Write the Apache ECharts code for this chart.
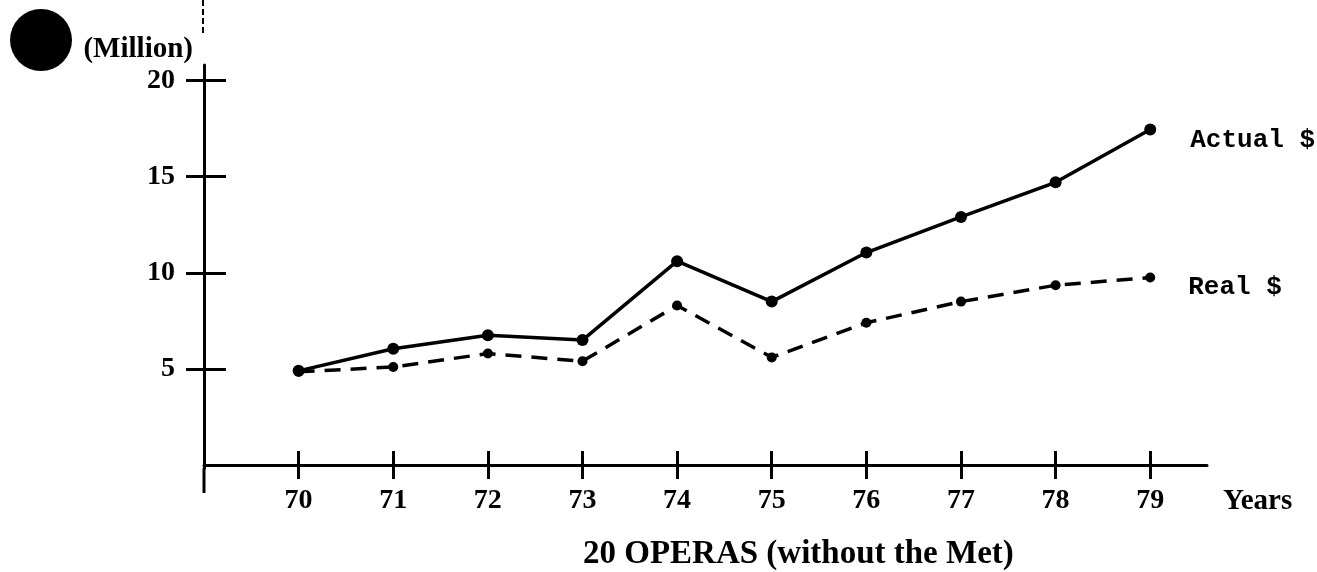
<!DOCTYPE html>
<html>
<head>
<meta charset="utf-8">
<script src="https://cdn.jsdelivr.net/npm/echarts@6/dist/echarts.min.js"></script>
<style>
  html, body { margin: 0; padding: 0; background: #fff; }
  #chart { width: 1317px; height: 572px; }
</style>
</head>
<body>
<div id="chart"></div>
<script>
// years on the x axis (19xx)
const years = [70, 71, 72, 73, 74, 75, 76, 77, 78, 79];
// million dollars
const actualValues = [4.9, 6.05, 6.75, 6.5, 10.6, 8.5, 11.05, 12.9, 14.7, 17.45];
const realValues = [4.85, 5.1, 5.8, 5.4, 8.3, 5.6, 7.4, 8.5, 9.35, 9.75];
const yTicks = [5, 10, 15, 20];

const serif = 'Liberation Serif';
const mono = 'Liberation Mono';

const pairs = (vals) => years.map((y, i) => [y, vals[i]]);

const chart = echarts.init(document.getElementById('chart'));
chart.setOption({
  backgroundColor: '#fff',
  animation: false,
  title: {
    text: '20 OPERAS (without the Met)',
    left: 578,
    top: 533,
    textStyle: { fontFamily: serif, fontWeight: 'bold', fontSize: 33, color: '#000' }
  },
  grid: { left: 204, right: 110, top: 65, bottom: 104 },
  xAxis: [{
    type: 'value',
    min: 69,
    max: 79.6,
    name: 'Years',
    nameLocation: 'end',
    nameGap: 16,
    nameTextStyle: {
      fontFamily: serif, fontWeight: 'bold', fontSize: 29, color: '#000',
      verticalAlign: 'top', padding: [22, 0, 0, 0]
    },
    splitLine: { show: false },
    axisLine: { lineStyle: { color: '#000', width: 3 } },
    axisTick: { customValues: years, length: 14, lineStyle: { color: '#000', width: 3 } },
    axisLabel: {
      customValues: years, margin: 19,
      fontFamily: serif, fontWeight: 'bold', fontSize: 28, color: '#000'
    }
  }, {
    // ticks crossing up through the axis
    type: 'value',
    min: 69,
    max: 79.6,
    position: 'bottom',
    splitLine: { show: false },
    axisLine: { show: false },
    axisTick: { inside: true, customValues: years, length: 14, lineStyle: { color: '#000', width: 3 } },
    axisLabel: { show: false }
  }],
  yAxis: [{
    type: 'value',
    min: -0.15,
    max: 20.8,
    name: '(Million)',
    nameLocation: 'end',
    nameGap: 15,
    nameTextStyle: {
      fontFamily: serif, fontWeight: 'bold', fontSize: 29, color: '#000',
      align: 'right', verticalAlign: 'middle', padding: [0, 11, 0, 0]
    },
    splitLine: { show: false },
    axisLine: { lineStyle: { color: '#000', width: 3 } },
    axisTick: { customValues: yTicks, length: 18, lineStyle: { color: '#000', width: 3 } },
    axisLabel: {
      customValues: yTicks, margin: 29,
      fontFamily: serif, fontWeight: 'bold', fontSize: 28, color: '#000'
    }
  }, {
    type: 'value',
    min: -0.15,
    max: 20.8,
    position: 'left',
    splitLine: { show: false },
    axisLine: { show: false },
    axisTick: { inside: true, customValues: yTicks, length: 22, lineStyle: { color: '#000', width: 3 } },
    axisLabel: { show: false }
  }],
  series: [{
    name: 'Actual $',
    type: 'line',
    data: pairs(actualValues),
    symbol: 'circle',
    symbolSize: 12,
    itemStyle: { color: '#000' },
    lineStyle: { color: '#000', width: 3.5 },
    endLabel: {
      show: true, formatter: 'Actual $', distance: 40, offset: [0, 11],
      fontFamily: mono, fontWeight: 'bold', fontSize: 26, color: '#000'
    }
  }, {
    name: 'Real $',
    type: 'line',
    data: pairs(realValues),
    symbol: 'circle',
    symbolSize: 10,
    itemStyle: { color: '#000' },
    lineStyle: { color: '#000', width: 3.5, type: [16, 10] },
    endLabel: {
      show: true, formatter: 'Real $', distance: 38, offset: [0, 10],
      fontFamily: mono, fontWeight: 'bold', fontSize: 26, color: '#000'
    }
  }],
  graphic: [
    // punched binder hole
    { type: 'circle', shape: { cx: 41, cy: 40, r: 31 }, style: { fill: '#000' } },
    // faint continuation of the y axis above and below
    { type: 'line', shape: { x1: 203, y1: 0, x2: 203, y2: 33 }, style: { stroke: '#000', lineWidth: 2, lineDash: [6, 3] } },
    { type: 'line', shape: { x1: 204, y1: 468, x2: 204, y2: 493 }, style: { stroke: '#000', lineWidth: 3 } }
  ]
});
</script>
</body>
</html>
